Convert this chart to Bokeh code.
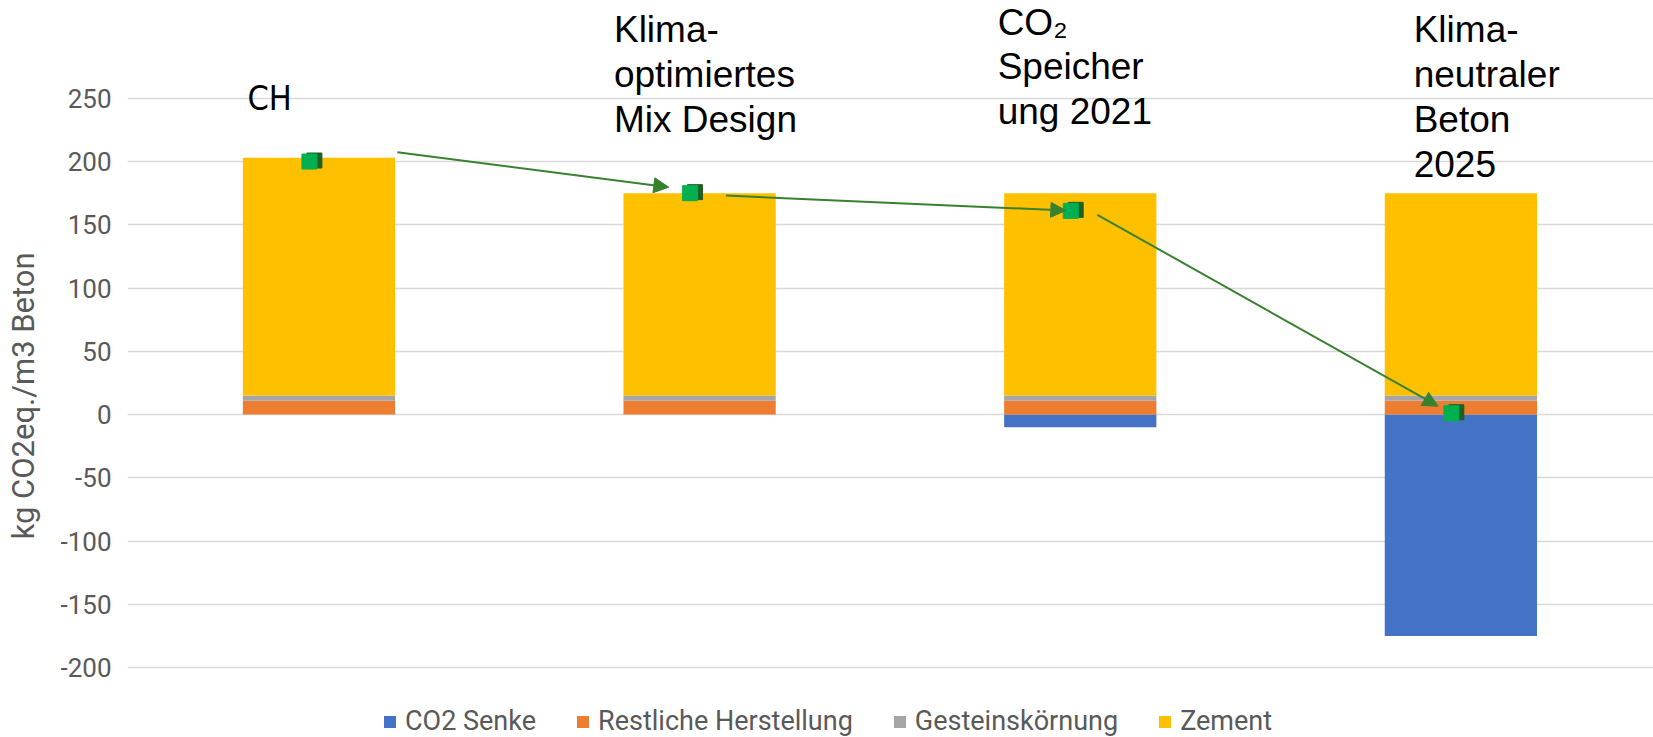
from bokeh.plotting import figure
from bokeh.models import (Range1d, FixedTicker, Legend, LegendItem, Arrow,
                          NormalHead, ColumnDataSource, PrintfTickFormatter)
from bokeh.transform import dodge
from bokeh.core.properties import value
from bokeh.embed import file_html
from bokeh.resources import INLINE

# ---------------- data ----------------
categories = ["CH", "Klima-optimiertes Mix Design",
              "CO2 Speicherung 2021", "Klimaneutraler Beton 2025"]
x_pos = [1, 2, 3, 4]
co2_senke = [0, 0, -10, -175]
restliche_herstellung = [11, 11, 11, 11]
gesteinskoernung = [4, 4, 4, 4]
zement = [188, 160, 160, 160]
total_marker = [200, 175, 161, 1]

series_names = ["CO2 Senke", "Restliche Herstellung", "Gesteinskörnung", "Zement"]
series_colors = ["#4472C4", "#ED7D31", "#A5A5A5", "#FFC000"]

y_ticks = [-200, -150, -100, -50, 0, 50, 100, 150, 200, 250]
y_axis_title = "kg CO2eq./m3 Beton"

# annotation texts above bars
label_lines = [["CH"],
               ["Klima-", "optimiertes", "Mix Design"],
               ["CO\u2082", "Speicher", "ung 2021"],
               ["Klima-", "neutraler", "Beton", "2025"]]

# arrows between markers (data coords)
arrow_x0 = [1.206, 2.069, 3.045]
arrow_y0 = [207.4, 173.1, 157.9]
arrow_x1 = [1.919, 2.962, 3.940]
arrow_y1 = [179.7, 161.3, 6.6]

# ---------------- layout / styles ----------------
label_x = [0.812, 1.775, 2.783, 3.876]
label_y = [250.4, 304.2, 310.3, 304.2]
line_step = 35.3
# the axis title is centred on the frame; trailing no-break spaces move the
# visible words down to where the reference has them
axis_title_pad = "\u00a0" * 7

W, H = 1653, 737
p = figure(width=W, height=H, output_backend="svg", toolbar_location=None,
           x_range=Range1d(0.497, 4.506), y_range=Range1d(-255.3, 327.3),
           min_border_left=127, min_border_right=0, min_border_top=0,
           min_border_bottom=0)
p.outline_line_color = None
p.xaxis.visible = False
p.xgrid.grid_line_color = None
p.ygrid.grid_line_color = "#D9D9D9"
p.ygrid.grid_line_width = 1.5
yax = p.yaxis[0]
yax.ticker = FixedTicker(ticks=y_ticks)
yax.formatter = PrintfTickFormatter(format="%d")
yax.axis_line_color = None
yax.major_tick_line_color = None
yax.minor_tick_line_color = None
yax.major_tick_out = 0
yax.major_tick_in = 0
yax.minor_tick_out = 0
yax.minor_tick_in = 0
yax.major_label_text_font = "Roboto"
yax.major_label_text_font_size = "26px"
yax.major_label_text_color = "#595959"
yax.major_label_standoff = 16
yax.axis_label = y_axis_title + axis_title_pad
yax.axis_label_text_font = "Roboto"
yax.axis_label_text_font_size = "31px"
yax.axis_label_text_font_style = "normal"
yax.axis_label_text_color = "#595959"
yax.axis_label_standoff = 15

src = ColumnDataSource(dict(x=x_pos, senke=co2_senke, rest=restliche_herstellung,
                            gest=gesteinskoernung, zem=zement, tot=total_marker,
                            zero=[0] * len(x_pos)))

r_senke = p.vbar(x="x", top="zero", bottom="senke", width=0.4, source=src,
                 fill_color=series_colors[0], line_color=None)
stack = p.vbar_stack(["rest", "gest", "zem"], x="x", width=0.4, source=src,
                     fill_color=series_colors[1:], line_color=None)

# arrows
asrc = ColumnDataSource(dict(x0=arrow_x0, y0=arrow_y0, x1=arrow_x1, y1=arrow_y1))
p.add_layout(Arrow(x_start="x0", y_start="y0", x_end="x1", y_end="y1", source=asrc,
                   line_color="#38812F", line_width=2,
                   end=NormalHead(size=15, fill_color="#38812F", line_color="#38812F")))

# markers (shadow + front)
p.scatter(x=dodge("x", -0.012), y=dodge("tot", 0.8), source=src, marker="square",
          size=15, fill_color="#215E21", line_color="#215E21")
p.scatter(x=dodge("x", -0.025), y="tot", source=src, marker="square",
          size=15, fill_color="#00B050", line_color="#00B050")

# texts
tx, ty, tt = [], [], []
for i, lines in enumerate(label_lines):
    for j, ln in enumerate(lines):
        tx.append(label_x[i])
        ty.append(label_y[i] - j * line_step)
        tt.append(ln)
tsrc = ColumnDataSource(dict(x=tx[1:], y=ty[1:], t=tt[1:]))
p.text(x="x", y="y", text="t", source=tsrc, text_font=value("Liberation Sans"),
       text_font_size="37px", text_color="#000000", text_baseline="alphabetic",
       text_align="left")
csrc = ColumnDataSource(dict(x=tx[:1], y=ty[:1], t=tt[:1]))
p.text(x="x", y="y", text="t", source=csrc,
       text_font=value("DejaVu Sans Condensed, Roboto"),
       text_font_size="34px", text_color="#000000", text_baseline="alphabetic",
       text_align="left")

legend = Legend(items=[LegendItem(label=series_names[0], renderers=[r_senke]),
                       LegendItem(label=series_names[1], renderers=[stack[0]]),
                       LegendItem(label=series_names[2], renderers=[stack[1]]),
                       LegendItem(label=series_names[3], renderers=[stack[2]])],
                location=(255, 0), orientation="horizontal",
                glyph_width=15, glyph_height=15, label_standoff=8, spacing=39,
                padding=0, margin=0, border_line_color=None,
                background_fill_alpha=0, label_text_font="Roboto",
                label_text_font_size="27px", label_text_color="#595959")
p.add_layout(legend)

open("out.html", "w").write(file_html(p, INLINE))
